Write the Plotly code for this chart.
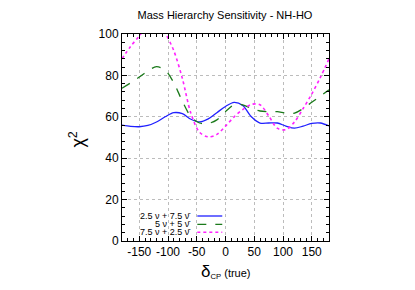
import plotly.graph_objects as go

delta_cp = [-180, -165, -150, -135, -120, -105, -90, -75, -60, -45, -30, -15, 0,
            15, 30, 45, 60, 75, 90, 105, 120, 135, 150, 165, 180]

chi2_25_75 = [56.0, 55.4, 55.2, 55.8, 57.5, 60.0, 62.0, 61.5, 58.8, 57.5, 59.0, 62.0, 65.0,
              67.0, 65.5, 60.0, 57.0, 57.0, 57.0, 55.5, 54.5, 55.5, 56.8, 57.0, 55.6]

chi2_5_5 = [73.8, 76.4, 79.2, 82.2, 84.2, 82.6, 76.5, 67.5, 60.0, 57.0, 56.8, 58.5, 62.5,
            65.8, 65.8, 64.0, 62.8, 62.5, 62.5, 61.8, 61.8, 64.0, 67.0, 70.0, 73.0]

chi2_75_25 = [88.0, 94.0, 99.0, 104.5, 106.5, 100.5, 92.0, 78.5, 61.5, 52.5, 50.3, 51.5, 55.5,
              60.0, 63.5, 66.0, 65.8, 60.5, 54.5, 53.8, 57.5, 64.0, 71.0, 79.0, 88.0]

series_names = ["2.5 ν + 7.5 ν̄", "5 ν + 5 ν̄", "7.5 ν + 2.5 ν̄"]
series_values = [chi2_25_75, chi2_5_5, chi2_75_25]
series_colors = ["#2020ff", "#1b7a1b", "#ff22ff"]
series_dash = ["solid", "dash", "dot"]
series_width = [1.3, 1.3, 1.6]

x_ticks = [-150, -100, -50, 0, 50, 100, 150]
x_tick_labels = ["-150", "-100", "-50", "0", "50", "100", "150"]
y_ticks = [0, 20, 40, 60, 80, 100]
y_tick_labels = ["0", "20", "40", "60", "80", "100"]

fig = go.Figure()
for name, vals, col, dash, w in zip(series_names, series_values, series_colors, series_dash, series_width):
    fig.add_trace(go.Scatter(x=delta_cp, y=vals, mode="lines", name=name,
                             line=dict(color=col, dash=dash, width=w, shape="spline", smoothing=0.9),
                             showlegend=False))

OFF = 8  # page body offset
W, H = 400, 282
PX0, PX1, PY0, PY1 = 121.5 - OFF, 329 - OFF, 34 - OFF, 241 - OFF
L, R, T, B = PX0, W - PX1, PY0, H - PY1
pw = PX1 - PX0
ph = PY1 - PY0

def xp(px):
    return (px - OFF - PX0) / pw

def yp(py):
    return (PY1 - (py - OFF)) / ph

FONT = "Liberation Sans, Arial, sans-serif"

axis_common = dict(
    showline=True, linecolor="black", linewidth=1, mirror="allticks",
    ticks="inside", ticklen=5, tickcolor="black", tickwidth=1,
    showgrid=True, gridcolor="#bcbcbc", griddash="dot", gridwidth=1,
    zeroline=False, tickfont=dict(family=FONT, size=12, color="black"),
)

fig.update_xaxes(range=[-180, 180], tickvals=x_ticks, ticktext=x_tick_labels,
                 minor=dict(dtick=10, tick0=0, ticks="inside", ticklen=3, tickcolor="black", showgrid=False),
                 **axis_common)
fig.update_yaxes(range=[0, 100], tickvals=y_ticks, ticktext=y_tick_labels,
                 minor=dict(dtick=4, tick0=0, ticks="inside", ticklen=3, tickcolor="black", showgrid=False),
                 **axis_common)

# opaque key box background
fig.add_shape(type="rect", xref="paper", yref="paper",
              x0=xp(128), x1=xp(226), y0=0.0, y1=yp(206),
              fillcolor="white", line=dict(width=0), layer="between")

rows_y = [216, 224.3, 232.3]
for name, col, dash, w, yy in zip(series_names, series_colors, series_dash, series_width, rows_y):
    fig.add_shape(type="line", xref="paper", yref="paper",
                  x0=xp(197), x1=xp(222), y0=yp(yy), y1=yp(yy),
                  line=dict(color=col, dash=dash, width=w))
    fig.add_annotation(xref="paper", yref="paper", x=xp(193), y=yp(yy),
                       text=name, showarrow=False, xanchor="right", yanchor="middle",
                       font=dict(family=FONT, size=9, color="black"))

fig.add_annotation(xref="paper", yref="paper", x=0.5, y=yp(271),
                   text="<span style='font-size:17px'>δ</span><sub>CP</sub> (true)",
                   showarrow=False, xanchor="center", yanchor="middle",
                   font=dict(family=FONT, size=11, color="black"))
fig.add_annotation(xref="paper", yref="paper", x=xp(76), y=yp(140),
                   text="χ<sup>2</sup>", textangle=-90,
                   showarrow=False, xanchor="center", yanchor="middle",
                   font=dict(family=FONT, size=18, color="black"))

fig.update_layout(
    width=W, height=H,
    margin=dict(l=L, r=R, t=T, b=B, pad=0),
    paper_bgcolor="white", plot_bgcolor="white",
    title=dict(text="Mass Hierarchy Sensitivity - NH-HO", x=(225 - OFF) / W, xanchor="center",
               y=1 - (15 - OFF) / H, yanchor="middle",
               font=dict(family=FONT, size=11, color="black")),
)

fig.write_html("out.html")
